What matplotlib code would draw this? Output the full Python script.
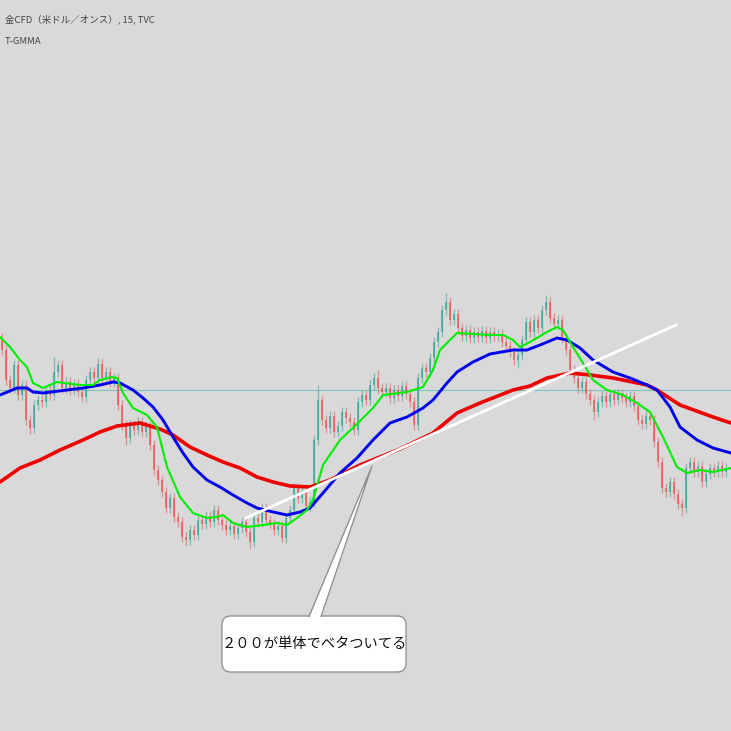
import matplotlib
matplotlib.use("Agg")
import matplotlib.pyplot as plt
from matplotlib.patches import FancyBboxPatch, Polygon
import numpy as np

plt.rcParams['font.family'] = ['Noto Sans CJK JP', 'DejaVu Sans']

# ---------------- data ----------------
TITLE = "金CFD（米ドル／オンス）, 15, TVC"
INDICATOR = "T-GMMA"
CALLOUT = "２００が単体でベタついてる"

# close prices per 15-min bar (arbitrary price units)
closes = [
    650, 620, 612, 635, 605, 615, 580, 572, 595, 600,
    598, 610, 605, 628, 635, 612, 618, 610, 616, 608,
    603, 620, 628, 622, 636, 622, 628, 618, 622, 595,
    575, 562, 575, 570, 578, 568, 574, 555, 530, 520,
    508, 492, 502, 483, 478, 463, 460, 470, 465, 480,
    476, 484, 478, 490, 480, 475, 470, 474, 466, 472,
    478, 468, 458, 482, 478, 492, 480, 476, 470, 474,
    462, 482, 490, 512, 502, 508, 494, 498, 560, 600,
    580, 572, 584, 568, 574, 588, 582, 578, 570, 598,
    605, 600, 615, 622, 612, 608, 612, 602, 610, 604,
    614, 606, 598, 575, 622, 632, 628, 642, 658, 668,
    690, 698, 680, 686, 672, 664, 670, 662, 668, 663,
    669, 662, 668, 664, 666, 658, 654, 648, 640, 645,
    660, 678, 668, 680, 672, 690, 698, 682, 676, 680,
    662, 650, 630, 622, 612, 618, 606, 600, 588, 598,
    604, 598, 606, 600, 606, 602, 598, 604, 594, 580,
    576, 584, 580, 558, 538, 512, 508, 518, 506, 496,
    492, 532, 538, 528, 534, 518, 526, 532, 528, 534,
    528, 532,
]
first_open = 660
wick = 5
# notable wick extremes per bar
spike_high = {0: 667, 13: 643, 24: 642, 53: 495, 79: 615, 94: 630, 111: 707, 136: 705}
spike_low = {7: 566, 31: 555, 46: 454, 62: 451, 70: 458, 103: 570, 129: 632, 148: 580, 170: 484}

# moving averages sampled from the chart (bar index, price)
short_bars = [-0.5, 2, 4.5, 6.25, 7.75, 10.25, 13.75, 19.5, 22.75, 24.5, 27.5, 28.75, 30.25, 32.75,
              36.25, 38.75, 41.25, 44.5, 47.75, 51.25, 53.75, 55.25, 57.75, 61.25, 65.25, 68.75,
              71.25, 73.75, 76.25, 77.75, 80.25, 84.5, 88.75, 92.75, 95.25, 101.25, 105.25, 107.75,
              109.5, 112, 113.75, 122, 125.25, 127.75, 129.5, 132, 136.25, 138.75, 140.25, 142.75,
              145.25, 147.75, 151.25, 155.25, 158.75, 162, 165.25, 168.75, 171.25, 174.5, 177.75, 182.25]
short_vals = [663, 653, 640, 633, 617, 612, 618, 615, 615, 620, 623, 622, 607, 592,
              585, 573, 533, 503, 487, 482, 483, 485, 477, 473, 475, 477,
              475, 482, 490, 500, 535, 560, 576, 592, 605, 608, 613, 630,
              650, 660, 667, 665, 665, 660, 653, 658, 668, 673, 670, 653,
              637, 620, 610, 605, 597, 588, 563, 533, 527, 530, 528, 532]

mid_bars = [-0.5, 3.75, 6.25, 7.75, 10.25, 16.25, 20.25, 24.5, 27.75, 29.5, 32.75, 35.25, 37.75,
            40.25, 42.75, 45.25, 47.75, 51.25, 54.5, 57.75, 61.25, 63.75, 67.75, 71.25, 74.5, 77,
            80.25, 84.5, 88.75, 92.75, 97, 101.25, 105.25, 107.75, 111.25, 113.75, 117.75, 122,
            127.75, 131.25, 134.5, 138.75, 141.25, 144.5, 147.75, 152.75, 157, 161.25, 163.75,
            167, 169.5, 173.75, 177.75, 182.25]
mid_vals = [605, 612, 612, 608, 607, 610, 612, 615, 618, 617, 610, 602, 593,
            580, 563, 547, 533, 520, 513, 505, 497, 492, 488, 485, 488, 492,
            507, 527, 542, 560, 577, 583, 592, 600, 617, 628, 638, 646,
            650, 650, 655, 662, 660, 652, 640, 628, 622, 615, 610,
            593, 573, 560, 552, 547]

long_bars = [-0.5, 4.5, 9.5, 14.5, 20.25, 24.5, 28.75, 34.5, 37, 39.5, 42.75, 47, 51.25, 55.25,
             59.5, 63.75, 67.75, 72, 77, 82, 89.5, 99.5, 107.75, 113.75, 119.5, 127.75, 132,
             136.25, 142, 147, 152.75, 161.25, 163.75, 169.5, 177.75, 182.25]
long_vals = [518, 532, 540, 550, 560, 568, 574, 577, 574, 571, 565, 553, 545, 538,
             532, 523, 518, 514, 513, 520, 535, 551, 567, 587, 597, 610, 614,
             622, 627, 625, 622, 615, 610, 595, 583, 577]

trend_bars = [61, 168.5]
trend_prices = [482, 675]
ref_level = 610.5

# ---------------- figure ----------------
BG = '#d9d9d9'
fig = plt.figure(figsize=(7.31, 7.31), dpi=100)
fig.patch.set_facecolor(BG)
ax = fig.add_axes([0, 0, 1, 1])
ax.set_facecolor(BG)
for s in ax.spines.values():
    s.set_visible(False)
ax.set_xticks([])
ax.set_yticks([])

n = len(closes)
idx = np.arange(n)
c = np.array(closes, dtype=float)
o = np.concatenate([[first_open], c[:-1]])
hi = np.maximum(o, c) + wick
lo = np.minimum(o, c) - wick
for k, v in spike_high.items():
    hi[k] = v
for k, v in spike_low.items():
    lo[k] = v
up = c >= o
UPC = '#3aa898'
DNC = '#ec5757'
colors = np.where(up, UPC, DNC)

ax.vlines(idx, lo, hi, colors=colors, linewidth=0.9, alpha=0.6, zorder=2)
body_h = np.abs(c - o)
body_h = np.where(body_h < 1.5, 1.5, body_h)
ax.bar(idx, body_h, bottom=np.minimum(o, c), width=0.72, color=colors, alpha=0.75,
       linewidth=0, zorder=3)

ax.axhline(ref_level, color='#7ec6bd', linewidth=0.8, zorder=1.5)

line_kw = dict(solid_capstyle='round', solid_joinstyle='round')
ax.plot(long_bars, long_vals, color='#ee0000', linewidth=2.6, zorder=5, **line_kw)
ax.plot(mid_bars, mid_vals, color='#0000ee', linewidth=2.1, zorder=6, **line_kw)
ax.plot(short_bars, short_vals, color='#00ee00', linewidth=1.5, zorder=7, **line_kw)
ax.plot(trend_bars, trend_prices, color='white', linewidth=2.0, zorder=8)

ax.set_xlim(-0.5, 182.25)
ax.set_ylim(269, 1000)

# ---------------- texts ----------------
def fx(px):
    return px / 731.0

def fy(py):
    return 1 - py / 731.0

ax.text(fx(5), fy(19), TITLE, transform=ax.transAxes, fontsize=6.8, color='#444444',
        va='center', ha='left')
ax.text(fx(5), fy(42), INDICATOR, transform=ax.transAxes, fontsize=6.8, color='#444444',
        va='center', ha='left')

# callout box with pointer
box = FancyBboxPatch((fx(222), fy(672)), fx(406) - fx(222), fy(616) - fy(672),
                     boxstyle="round,pad=0,rounding_size=0.012", transform=ax.transAxes,
                     facecolor='white', edgecolor='#8a8a8a', linewidth=0.9, zorder=10)
ax.add_patch(box)
wedge = Polygon([(fx(309), fy(618)), (fx(372), fy(466)), (fx(321), fy(618))], closed=True,
                transform=ax.transAxes, facecolor='white', edgecolor='none', zorder=11)
ax.add_patch(wedge)
ax.plot([fx(309), fx(372), fx(321)], [fy(616.5), fy(466), fy(616.5)], transform=ax.transAxes,
        color='#8a8a8a', linewidth=0.9, zorder=12)
ax.text(fx(314), fy(644), CALLOUT, transform=ax.transAxes, fontsize=10.3, color='#111111',
        ha='center', va='center', zorder=13)

fig.savefig('out.png', dpi=100, facecolor=BG)
